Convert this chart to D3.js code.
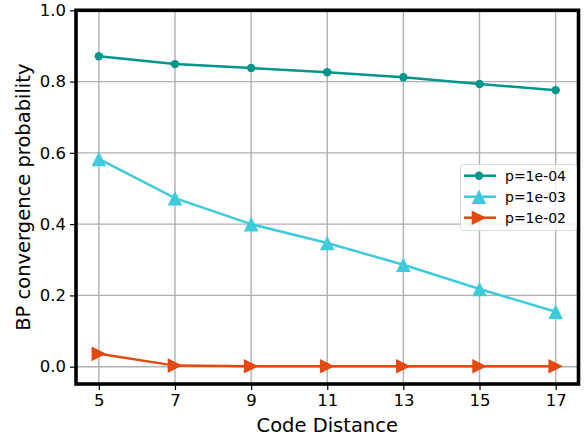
<!DOCTYPE html>
<html><head><meta charset="utf-8">
<script src="https://cdn.jsdelivr.net/npm/d3@7"></script>
<style>body{margin:0;background:#fff;} svg{display:block;font-family:"DejaVu Sans",sans-serif;}</style>
</head><body>
<svg id="c" width="587" height="439"></svg>
<script>
const distances = [5, 7, 9, 11, 13, 15, 17];
const p1e4 = [0.871, 0.849, 0.838, 0.826, 0.812, 0.793, 0.776];
const p1e3 = [0.583, 0.473, 0.400, 0.347, 0.286, 0.218, 0.154];
const p1e2 = [0.036, 0.003, 0.001, 0.001, 0.001, 0.001, 0.001];
const seriesLabels = ["p=1e-04", "p=1e-03", "p=1e-02"];
const yTicks = [0.0, 0.2, 0.4, 0.6, 0.8, 1.0];

const colors = ["#00968a", "#3fcbdc", "#e3490f"];
const svg = d3.select("#c");
const L = 76, R = 578.5, T = 10.3, B = 384;
const x = d3.scaleLinear().domain([4.4, 17.6]).range([L, R]);
const y = d3.scaleLinear().domain([-0.0486, 1.0]).range([B, T]);

// grid
const g = svg.append("g");
g.selectAll(".gx").data(distances).join("line")
  .attr("x1", d => x(d)).attr("x2", d => x(d)).attr("y1", T).attr("y2", B)
  .attr("stroke", "#b0b0b0").attr("stroke-width", 1.4);
g.selectAll(".gy").data(yTicks).join("line")
  .attr("y1", d => y(d)).attr("y2", d => y(d)).attr("x1", L).attr("x2", R)
  .attr("stroke", "#b0b0b0").attr("stroke-width", 1.4);

// axes
const xa = svg.append("g").attr("transform", `translate(0,${B})`)
  .call(d3.axisBottom(x).tickValues(distances).tickSize(6).tickPadding(4).tickFormat(d3.format("d")));
const ya = svg.append("g").attr("transform", `translate(${L},0)`)
  .call(d3.axisLeft(y).tickValues(yTicks).tickSize(6).tickPadding(4).tickFormat(d3.format(".1f")));
[xa, ya].forEach(a => {
  a.select(".domain").remove();
  a.selectAll("text").attr("font-size", 16.5).attr("fill", "#000").attr("font-family", "DejaVu Sans");
  a.selectAll("line").attr("stroke", "#000").attr("stroke-width", 1.2);
});

const line = d3.line().x((d, i) => x(distances[i])).y(d => y(d));
const all = [p1e4, p1e3, p1e2];
all.forEach((s, k) => {
  svg.append("path").datum(s).attr("d", line).attr("fill", "none")
    .attr("stroke", colors[k]).attr("stroke-width", 2.5);
});
const s = 7.3;
const triUp = `M0,${-s}L${s},${s}L${-s},${s}Z`;
const triRight = `M${s},0L${-s},${s}L${-s},${-s}Z`;
// markers
svg.selectAll(".m0").data(p1e4).join("circle")
  .attr("cx", (d, i) => x(distances[i])).attr("cy", d => y(d)).attr("r", 4.2).attr("fill", colors[0]);
svg.selectAll(".m1").data(p1e3).join("path").attr("d", triUp)
  .attr("transform", (d, i) => `translate(${x(distances[i])},${y(d)})`).attr("fill", colors[1]);
svg.selectAll(".m2").data(p1e2).join("path").attr("d", triRight)
  .attr("transform", (d, i) => `translate(${x(distances[i])},${y(d)})`).attr("fill", colors[2]);

// frame
svg.append("rect").attr("x", L).attr("y", T).attr("width", R - L).attr("height", B - T)
  .attr("fill", "none").attr("stroke", "#000").attr("stroke-width", 3.6);

// labels
svg.append("text").attr("x", (L + R) / 2).attr("y", 432).attr("text-anchor", "middle")
  .attr("font-size", 19.5).text("Code Distance");
svg.append("text").attr("transform", `translate(30,${(T + B) / 2}) rotate(-90)`)
  .attr("text-anchor", "middle").attr("font-size", 19.5).text("BP convergence probability");

// legend
const lg = svg.append("g").attr("transform", "translate(460,164)");
lg.append("rect").attr("x", 0.5).attr("y", 0.5).attr("width", 116).attr("height", 66).attr("rx", 3)
  .attr("fill", "#fff").attr("fill-opacity", 0.8).attr("stroke", "#d9d9d9");
seriesLabels.forEach((lab, k) => {
  const yy = 11.7 + k * 21;
  lg.append("line").attr("x1", 4).attr("x2", 36).attr("y1", yy).attr("y2", yy)
    .attr("stroke", colors[k]).attr("stroke-width", 2.5);
  if (k === 0) lg.append("circle").attr("cx", 19).attr("cy", yy).attr("r", 4.2).attr("fill", colors[0]);
  else lg.append("path").attr("d", k === 1 ? triUp : triRight)
    .attr("transform", `translate(19,${yy})`).attr("fill", colors[k]);
  lg.append("text").attr("x", 45).attr("y", yy + 5).attr("font-size", 14).text(lab);
});
</script>
</body></html>
